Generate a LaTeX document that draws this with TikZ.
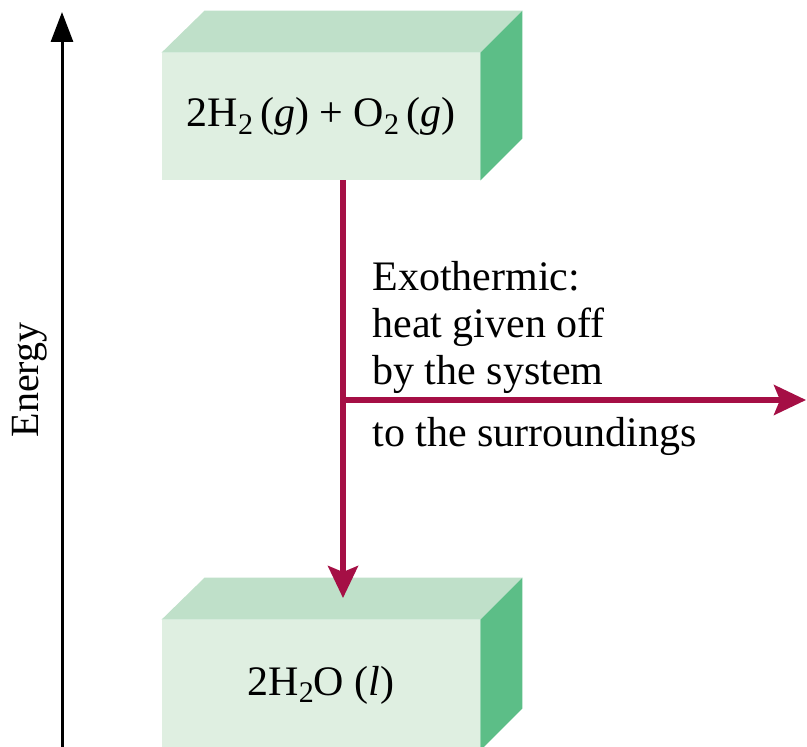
\documentclass[tikz,border=0pt]{standalone}
\usepackage{fontspec}
\setmainfont{Liberation Serif}
\usetikzlibrary{arrows.meta, positioning, calc}
\definecolor{slabfront}{HTML}{DFEFE1}
\definecolor{slabtop}{HTML}{BFE0C9}
\definecolor{slabside}{HTML}{5CBE87}
\definecolor{heatred}{HTML}{A50F45}
\newcommand{\chsub}[1]{\raisebox{-0.4ex}{\fontsize{15}{15}\selectfont #1}}

\begin{document}
\begin{tikzpicture}[
    x=0.5pt, y=-0.5pt,
    every node/.style={font=\fontsize{21}{23.5}\selectfont},
    front/.style={fill=slabfront, inner sep=0pt, minimum width=159pt, align=center},
    topface/.style={fill=slabtop},
    sideface/.style={fill=slabside},
    heat/.style={-{Stealth[length=16pt, width=15pt, inset=3pt]}, line width=2.6pt, draw=heatred},
    axis/.style={-{Triangle[length=15pt, width=11pt]}, line width=1.5pt, draw=black},
    note/.style={inner sep=0pt, align=left}
]
    \clip (0,0) rectangle (807,747);

    % the two energy levels
    \node[front, minimum height=63.5pt] (react) at (321,116.5) {2H\chsub{2}\,(\textit{g}) + O\chsub{2}\,(\textit{g})};
    \node[front, minimum height=65pt] (prod) at (321,685) {2H\chsub{2}O (\textit{l})};
    \foreach \b in {react,prod} {
        \fill[topface] (\b.north west) -- ++(43,-42) -- ($(\b.north east)+(42,-42)$) -- (\b.north east) -- cycle;
        \fill[sideface] (\b.north east) -- ++(42,-42) -- ($(\b.south east)+(42,-42)$) -- (\b.south east) -- cycle;
    }

    % energy axis
    \coordinate (ebase) at (62,747);
    \coordinate (etop) at (62,12);
    \draw[axis] (ebase) -- (etop);
    \node[rotate=90, font=\fontsize{20}{20}\selectfont] (energy) at (30,380) {Energy};

    % heat flow
    \coordinate (split) at (343,400);
    \coordinate (land) at (343,598);
    \coordinate (out) at (806,400);
    \draw[heat] (react.south -| split) -- (land);
    \draw[heat] (split) -- (out);

    \node[note, anchor=north west] (exo) at (372,261) {Exothermic:\\heat given off\\by the system};
    \node[note, anchor=base west] (surr) at (372,447) {to the surroundings};
\end{tikzpicture}
\end{document}
